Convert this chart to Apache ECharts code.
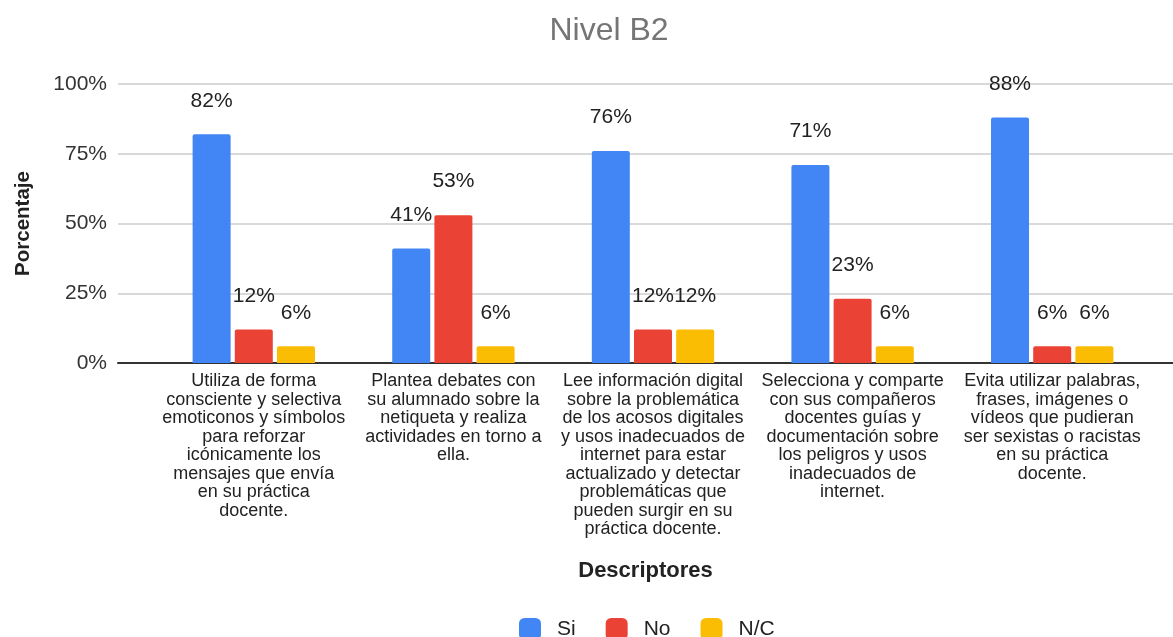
<!DOCTYPE html>
<html>
<head>
<meta charset="utf-8">
<script src="https://cdn.jsdelivr.net/npm/echarts@6/dist/echarts.min.js"></script>
<style>
  html, body { margin: 0; padding: 0; background: #fff; }
  #chart { width: 1173px; height: 637px; }
</style>
</head>
<body>
<div id="chart"></div>
<script>
var categories = [
  'Utiliza de forma\nconsciente y selectiva\nemoticonos y símbolos\npara reforzar\nicónicamente los\nmensajes que envía\nen su práctica\ndocente.',
  'Plantea debates con\nsu alumnado sobre la\nnetiqueta y realiza\nactividades en torno a\nella.',
  'Lee información digital\nsobre la problemática\nde los acosos digitales\ny usos inadecuados de\ninternet para estar\nactualizado y detectar\nproblemáticas que\npueden surgir en su\npráctica docente.',
  'Selecciona y comparte\ncon sus compañeros\ndocentes guías y\ndocumentación sobre\nlos peligros y usos\ninadecuados de\ninternet.',
  'Evita utilizar palabras,\nfrases, imágenes o\nvídeos que pudieran\nser sexistas o racistas\nen su práctica\ndocente.'
];
var si = [82, 41, 76, 71, 88];
var no = [12, 53, 12, 23, 6];
var nc = [6, 6, 12, 6, 6];

var font = '"Liberation Sans", Arial, sans-serif';

var myChart = echarts.init(document.getElementById('chart'));

function barSeries(name, data, color) {
  return {
    name: name,
    type: 'bar',
    xAxisIndex: 1,
    yAxisIndex: 1,
    data: data,
    barWidth: 38,
    barGap: '11%',
    itemStyle: { color: color, borderRadius: [2, 2, 0, 0] },
    label: {
      show: true,
      position: 'top',
      distance: 23,
      formatter: '{c}%',
      fontFamily: font,
      fontSize: 21,
      color: '#222'
    }
  };
}

var option = {
  animation: false,
  textStyle: { fontFamily: font },
  title: {
    text: 'Nivel B2',
    left: 604,
    top: 10,
    textAlign: 'center',
    textStyle: { fontFamily: font, fontSize: 32, fontWeight: 'normal', color: '#757575' }
  },
  legend: {
    left: 519,
    top: 618,
    padding: 0,
    itemWidth: 22,
    itemHeight: 22,
    itemGap: 30,
    icon: 'roundRect',
    textStyle: { fontFamily: font, fontSize: 21, color: '#222', padding: [0, 0, 0, 11] },
    data: ['Si', 'No', 'N/C']
  },
  grid: [
    { left: 118, right: 0, top: 84, bottom: 274, containLabel: false, outerBoundsMode: 'none' },
    { left: 154, right: 21, top: 84, bottom: 274, containLabel: false, outerBoundsMode: 'none' }
  ],
  xAxis: [
    {
      gridIndex: 0,
      type: 'category',
      data: [''],
      axisLine: { show: true, lineStyle: { color: '#333', width: 2 } },
      axisTick: { show: false },
      axisLabel: { show: false },
      name: 'Descriptores',
      nameLocation: 'middle',
      nameGap: 197,
      nameTextStyle: { fontFamily: font, fontSize: 22, fontWeight: 'bold', color: '#222' }
    },
    {
      gridIndex: 1,
      type: 'category',
      data: categories,
      axisLine: { show: false },
      axisTick: { show: false },
      axisLabel: {
        interval: 0,
        margin: 9,
        fontFamily: font,
        fontSize: 18,
        lineHeight: 18.5,
        color: '#222',
        align: 'center'
      }
    }
  ],
  yAxis: [
    {
      gridIndex: 0,
      type: 'value',
      min: 0,
      max: 100,
      interval: 25,
      axisLine: { show: false },
      axisTick: { show: false },
      axisLabel: {
        formatter: '{value}%',
        fontFamily: font,
        fontSize: 21,
        color: '#333',
        margin: 11
      },
      splitLine: { lineStyle: { color: '#cccccc', width: 1.5 } },
      name: 'Porcentaje',
      nameLocation: 'middle',
      nameGap: 84,
      nameRotate: 90,
      nameTextStyle: { fontFamily: font, fontSize: 20.5, fontWeight: 'bold', color: '#222' }
    },
    {
      gridIndex: 1,
      type: 'value',
      min: 0,
      max: 100,
      show: false
    }
  ],
  series: [
    barSeries('Si', si, '#4285F4'),
    barSeries('No', no, '#EA4335'),
    barSeries('N/C', nc, '#FBBC04')
  ]
};

myChart.setOption(option);
</script>
</body>
</html>
